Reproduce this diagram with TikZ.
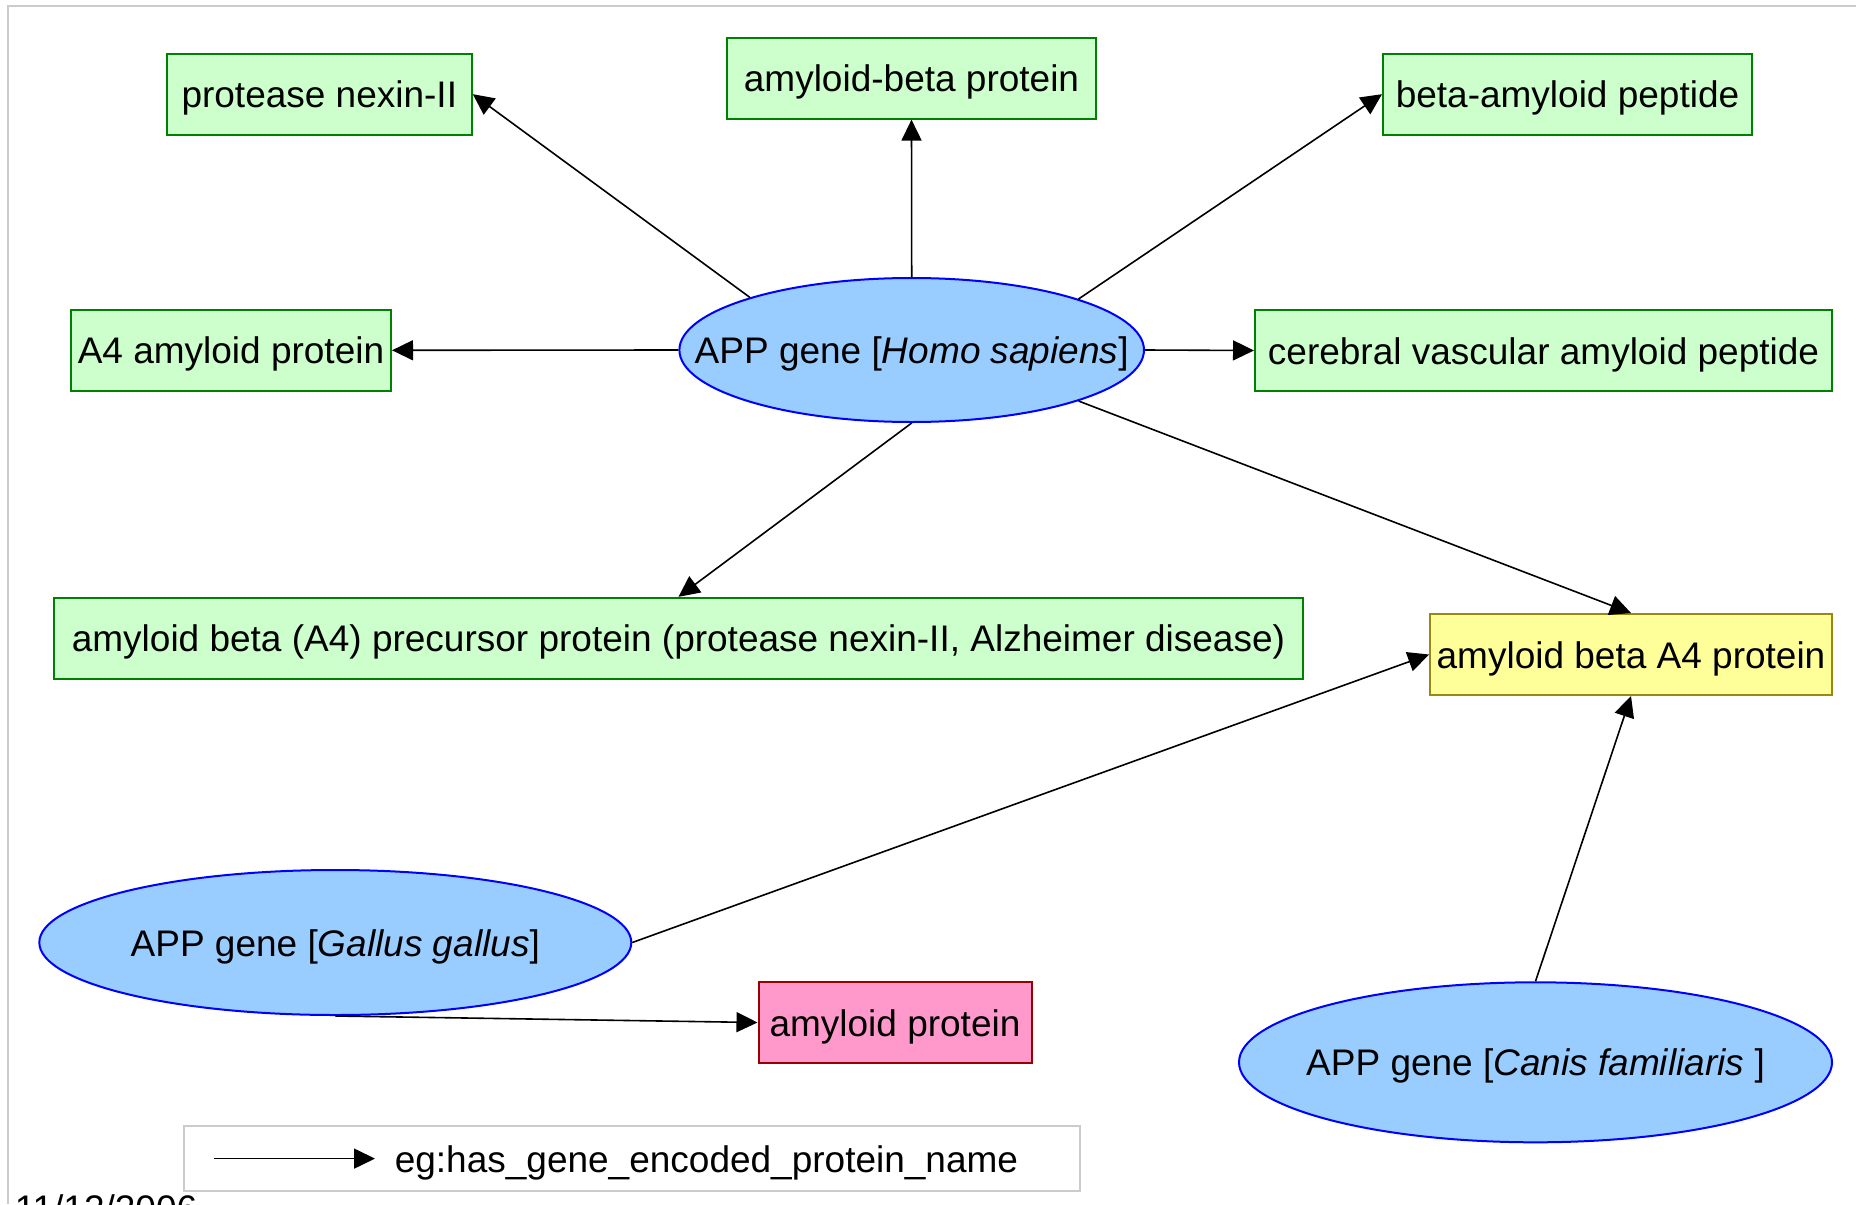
\documentclass[tikz,border=0pt]{standalone}
\usepackage{fontspec}
\setmainfont{Liberation Sans}
\usetikzlibrary{arrows.meta,shapes.geometric}
\definecolor{protfill}{HTML}{CCFFCC}
\definecolor{protline}{HTML}{008000}
\definecolor{genefill}{HTML}{99CCFF}
\definecolor{geneline}{HTML}{0000FF}
\definecolor{sharedfill}{HTML}{FFFF99}
\definecolor{sharedline}{HTML}{998811}
\definecolor{onlyfill}{HTML}{FF99CC}
\definecolor{onlyline}{HTML}{990000}
\definecolor{framegray}{HTML}{CCCCCC}
\newcommand{\genelabel}[1]{\makebox[0pt]{#1}}

\begin{document}
\begin{tikzpicture}[x=0.5pt,y=-0.5pt,line width=0.8pt,
  font=\fontsize{18.5}{22}\selectfont,
  prot/.style={draw=protline,fill=protfill,line width=1pt,minimum height=40.5pt,inner xsep=2pt,inner ysep=0pt,text height=17.5pt,text depth=3.9pt},
  gene/.style={ellipse,draw=geneline,fill=genefill,line width=1pt,inner sep=0pt,text height=17.5pt,text depth=3.9pt},
  edge/.style={-{Triangle[length=10.5pt,width=10pt]}}]
\useasboundingbox (0,0) rectangle (1856,1204);
%FRAME ROUND THE GRAPH
\draw[framegray,line width=1pt] (8,1204)--(8,6)--(1856,6);
\node[gene,minimum width=232.3pt,minimum height=72pt] (homo) at (911.7,350) {\genelabel{APP gene [\textit{Homo sapiens}]}};
\node[gene,minimum width=296pt,minimum height=72.5pt] (gallus) at (335.3,942.5) {\genelabel{APP gene [\textit{Gallus gallus}]}};
\node[gene,minimum width=296.5pt,minimum height=80pt] (canis) at (1535.5,1062.3) {\genelabel{APP gene [\textit{Canis familiaris} ]}};
\node[prot,minimum width=152.5pt] (pn) at (319.3,94.2) {protease nexin-II};
\node[prot,minimum width=184.5pt] (ab) at (911.5,78.1) {amyloid-beta protein};
\node[prot,minimum width=184.5pt] (bap) at (1567.5,94.2) {beta-amyloid peptide};
\node[prot,minimum width=160pt] (aa) at (231,350.3) {A4 amyloid protein};
\node[prot,minimum width=288.5pt] (cvap) at (1543.5,350.5) {cerebral vascular amyloid peptide};
\node[prot,minimum width=624.5pt] (app) at (678.5,638.3) {amyloid beta (A4) precursor protein (protease nexin-II, Alzheimer disease)};
\node[prot,draw=sharedline,fill=sharedfill,minimum width=201pt] (aba) at (1631,654.5) {amyloid beta A4 protein};
\node[prot,draw=onlyline,fill=onlyfill,minimum width=136.5pt] (ap) at (895,1022.5) {amyloid protein};
\draw[edge] (homo.162.7)--(pn.east);
\draw[edge] (homo.north)--(ab.south);
\draw[edge] (homo.17.3)--(bap.west);
\draw[edge] (homo.west)--(aa.east);
\draw[edge] (homo.east)--(cvap.west);
\draw[edge] (homo.south)--(app.north);
\draw[edge] (homo.-17.7)--(aba.north);
\draw[edge] (gallus.east)--(aba.west);
\draw[edge] (gallus.south)--(ap.west);
\draw[edge] (canis.north)--(aba.south);
\node[draw=framegray,line width=1pt,minimum width=448.25pt,minimum height=32.25pt] (key) at (631.75,1158.25) {};
\coordinate (keyA) at (214,1158.6);
\coordinate (keyB) at (375,1158.6);
\draw[edge] (keyA)--(keyB);
\node[anchor=base west,inner sep=0pt] (keytext) at (394,1172) {eg:has\_gene\_encoded\_protein\_name};
\node[anchor=base west,inner sep=0pt] (date) at (14,1221.5) {11/12/2006};
\end{tikzpicture}
\end{document}
